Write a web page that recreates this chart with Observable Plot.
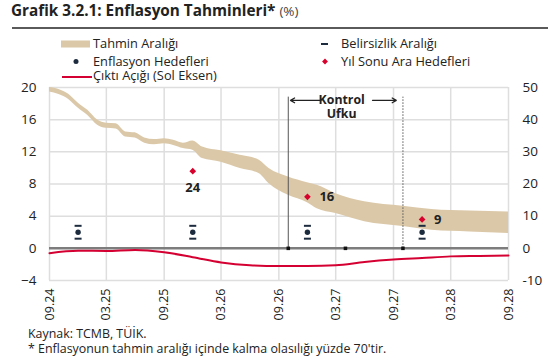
<!DOCTYPE html>
<html><head><meta charset="utf-8">
<script src="https://cdn.jsdelivr.net/npm/d3@7"></script>
<script src="https://cdn.jsdelivr.net/npm/@observablehq/plot@0.6"></script>
<style>
body{margin:0;background:#fff;font-family:"Open Sans",sans-serif;color:#222;}
#wrap{position:relative;width:555px;height:362px;overflow:hidden;background:#fff;}
#title{position:absolute;left:11px;top:0px;font-size:15.3px;font-weight:700;color:#222;white-space:nowrap;}
#title span{font-weight:400;color:#444;font-size:13.5px;}
#hr{position:absolute;left:12px;top:27px;width:536px;height:2px;background:#5a5a5a;}
#legend{position:absolute;left:0;top:30px;}
#chart{position:absolute;left:0;top:78px;}
.foot{position:absolute;left:28px;font-size:12.4px;line-height:14px;color:#222;white-space:nowrap;}
</style></head><body>
<div id="wrap">
  <div id="title">Grafik 3.2.1: Enflasyon Tahminleri* <span>(%)</span></div>
  <div id="hr"></div>
  <svg id="legend" width="555" height="56"></svg>
  <div id="chart"></div>
  <div class="foot" style="top:327px">Kaynak: TCMB, TÜİK.</div>
  <div class="foot" style="top:342px">* Enflasyonun tahmin aralığı içinde kalma olasılığı yüzde 70'tir.</div>
</div>
<script>
// ---- data ----
// Inflation forecast band (right axis, %)
const bandDates = ["2024-09","2024-10","2024-11","2024-12","2025-01","2025-02","2025-03","2025-04","2025-05","2025-06","2025-07","2025-08","2025-09","2025-10","2025-11","2025-12","2026-01","2026-03","2026-05","2026-07","2026-08","2026-10","2026-12","2027-01","2027-03","2027-06","2027-10","2028-01","2028-05","2028-09"];
const bandLow  = [48.6,47.8,46.3,43.6,41.3,38.3,37.3,37.1,34.6,34.3,32.7,32.2,32.5,32.0,31.0,30.5,27.9,26.8,24.8,23.2,20.1,16.5,14.2,12.3,10.8,8.3,6.8,5.6,5.1,4.6];
const bandHigh = [50.0,49.4,47.9,45.2,42.9,39.9,38.9,38.7,36.2,35.9,34.3,33.8,34.1,33.6,32.7,33.4,31.5,30.3,28.9,27.4,24.8,22.2,20.4,19.6,17.0,14.5,13.1,12.1,11.6,11.3];
// Output gap (left axis, %)
const gapDates  = ["2024-09","2024-12","2025-03","2025-06","2025-09","2025-12","2026-03","2026-06","2026-09","2026-12","2027-03","2027-06","2027-09","2027-12","2028-03","2028-06","2028-09"];
const gapValues = [-0.6,-0.3,-0.33,-0.2,-0.5,-1.1,-1.75,-2.1,-2.2,-2.2,-2.1,-1.7,-1.4,-1.2,-1.0,-0.95,-0.9];
// Inflation targets with uncertainty range (right axis, %)
const targetDates = ["2024-12","2025-12","2026-12","2027-12"];
const targetValues = [5,5,5,5];
const targetLow = [3,3,3,3];
const targetHigh = [7,7,7,7];
// Year-end interim targets (right axis, %)
const interimDates = ["2025-12","2026-12","2027-12"];
const interimValues = [24,16,9];
// Control horizon
const horizonDates = ["2026-10","2027-04","2027-10"];
const horizonTop = 47;        // right-axis units
const horizonLabelY = [46, 41.7];
const horizonLabels = ["Kontrol","Ufku"];
const horizonLabelDate = "2027-03-20";
const horizonArrows = [["2027-01-12","2026-10-08"],["2027-06-26","2027-09-10"]];
// Axes
const leftTicks = [-4,0,4,8,12,16,20];
const xTickDates = ["2024-09","2025-03","2025-09","2026-03","2026-09","2027-03","2027-09","2028-03","2028-09"];
const xTickLabels = ["09.24","03.25","09.25","03.26","09.26","03.27","09.27","03.28","09.28"];
const R = 2.5; // right axis = left axis * R

// ---- build ----
const p = d3.utcParse("%Y-%m");
const pd = d3.utcParse("%Y-%m-%d");
const band = bandDates.map((d,i)=>({date:p(d), lo:bandLow[i], hi:bandHigh[i]}));
const gap = gapDates.map((d,i)=>({date:p(d), v:gapValues[i]}));
const targets = targetDates.map((d,i)=>({date:p(d), v:targetValues[i], lo:targetLow[i], hi:targetHigh[i]}));
const interim = interimDates.map((d,i)=>({date:p(d), v:interimValues[i], label:String(interimValues[i])}));
const xTicks = xTickDates.map(p);
const arrows = horizonArrows.map(([a,b])=>({x1:pd(a), x2:pd(b), y:horizonLabelY[0]}));
const hLabels = horizonLabels.map((t,i)=>({date:pd(horizonLabelDate), y:horizonLabelY[i], t}));
const colors = {band:"#dbc8a8", gap:"#d50032", navy:"#1d2b3e", red:"#d8002c", grid:"#dedede", zero:"#7d7d7d"};

const dashSymbol = {draw(ctx, size){ const w = Math.sqrt(size/Math.PI); ctx.moveTo(-w,0); ctx.lineTo(w,0); }};

const chart = Plot.plot({
  width: 555, height: 242,
  marginLeft: 49, marginRight: 47, marginTop: 9, marginBottom: 40,
  style: {fontFamily: "Open Sans, sans-serif", fontSize: "12.5px", color: "#222", background: "transparent", overflow:"visible"},
  x: {type: "utc", domain: [p("2024-09"), p("2028-09")]},
  y: {domain: [-4, 20]},
  marks: [
    Plot.gridY(leftTicks, {stroke: colors.grid, strokeOpacity: 1, strokeWidth: 1.5}),
    Plot.gridX(xTicks, {stroke: colors.grid, strokeOpacity: 1, strokeWidth: 1.5}),
    Plot.areaY(band, {x: "date", y1: d => d.lo / R, y2: d => d.hi / R, fill: colors.band, curve: "monotone-x"}),
    Plot.ruleY([0], {stroke: colors.zero, strokeWidth: 2.5}),
    Plot.line(gap, {x: "date", y: "v", stroke: colors.gap, strokeWidth: 2, curve: "monotone-x"}),
    Plot.ruleX([p(horizonDates[0])], {y1: 0, y2: horizonTop / R, stroke: "#555", strokeWidth: 1}),
    Plot.ruleX([p(horizonDates[2])], {y1: 0, y2: horizonTop / R, stroke: "#555", strokeWidth: 1, strokeDasharray: "1.5,1.5"}),
    Plot.dot(horizonDates.map(p), {x: d => d, y: 0, symbol: "square", r: 2, fill: "#111", stroke: null}),
    Plot.arrow(arrows, {x1: "x1", x2: "x2", y1: d => d.y / R, y2: d => d.y / R, stroke: "#222", strokeWidth: 1.2, headLength: 6}),
    Plot.text(hLabels, {x: "date", y: d => d.y / R, text: "t", fontWeight: 700, fontSize: 12.3, fill: "#222"}),
    Plot.dot(targets, {x: "date", y: d => d.lo / R, symbol: dashSymbol, r: 3.5, stroke: colors.navy, strokeWidth: 2, fill: "none"}),
    Plot.dot(targets, {x: "date", y: d => d.hi / R, symbol: dashSymbol, r: 3.5, stroke: colors.navy, strokeWidth: 2, fill: "none"}),
    Plot.dot(targets, {x: "date", y: d => d.v / R, r: 2.7, fill: colors.navy, stroke: null}),
    Plot.dot(interim, {x: "date", y: d => d.v / R, symbol: "diamond2", r: 3, fill: colors.red, stroke: null}),
    Plot.text(interim.slice(0,1), {x: "date", y: d => d.v / R, text: "label", dy: 17, fontWeight: 700, fontSize: 13, fill: "#222"}),
    Plot.text(interim.slice(1), {x: "date", y: d => d.v / R, text: "label", dx: 12, textAnchor: "start", fontWeight: 700, fontSize: 13, fill: "#222"}),
    Plot.axisY(leftTicks, {anchor: "left", tickSize: 0, tickPadding: 13, label: null, fontSize: 13.5}),
    Plot.axisY(leftTicks, {anchor: "right", tickSize: 0, tickPadding: 14, label: null, fontSize: 13.5, tickFormat: d => d * R}),
    Plot.axisX(xTicks, {anchor: "bottom", tickSize: 0, tickPadding: 8, tickRotate: -90, label: null, fontSize: 12.5, tickFormat: d => xTickLabels[xTicks.findIndex(t => +t === +d)]})
  ]
});
document.getElementById("chart").appendChild(chart);

// ---- legend ----
const lg = d3.select("#legend");
const items = [
  {x: 93, y: 14, text: "Tahmin Aralığı", kind: "swatch"},
  {x: 93, y: 31.5, text: "Enflasyon Hedefleri", kind: "dot"},
  {x: 93, y: 46, text: "Çıktı Açığı (Sol Eksen)", kind: "line"},
  {x: 341, y: 14, text: "Belirsizlik Aralığı", kind: "dash"},
  {x: 341, y: 31.5, text: "Yıl Sonu Ara Hedefleri", kind: "diamond"}
];
for (const it of items) {
  if (it.kind === "swatch") lg.append("rect").attr("x", 61).attr("y", it.y - 3.5).attr("width", 29).attr("height", 7).attr("fill", colors.band);
  if (it.kind === "dot") lg.append("circle").attr("cx", 76).attr("cy", it.y).attr("r", 2.5).attr("fill", colors.navy);
  if (it.kind === "line") lg.append("line").attr("x1", 62).attr("x2", 92).attr("y1", it.y + 1).attr("y2", it.y + 1).attr("stroke", colors.gap).attr("stroke-width", 2);
  if (it.kind === "dash") lg.append("line").attr("x1", 321).attr("x2", 328).attr("y1", it.y).attr("y2", it.y).attr("stroke", colors.navy).attr("stroke-width", 2);
  if (it.kind === "diamond") lg.append("path").attr("d", d3.symbol(d3.symbolDiamond2, 22)()).attr("transform", `translate(325,${it.y})`).attr("fill", colors.red);
  lg.append("text").attr("x", it.x).attr("y", it.y).attr("dy", "0.35em").attr("font-size", "12.8px").attr("fill", "#222").text(it.text);
}
</script>
</body></html>
